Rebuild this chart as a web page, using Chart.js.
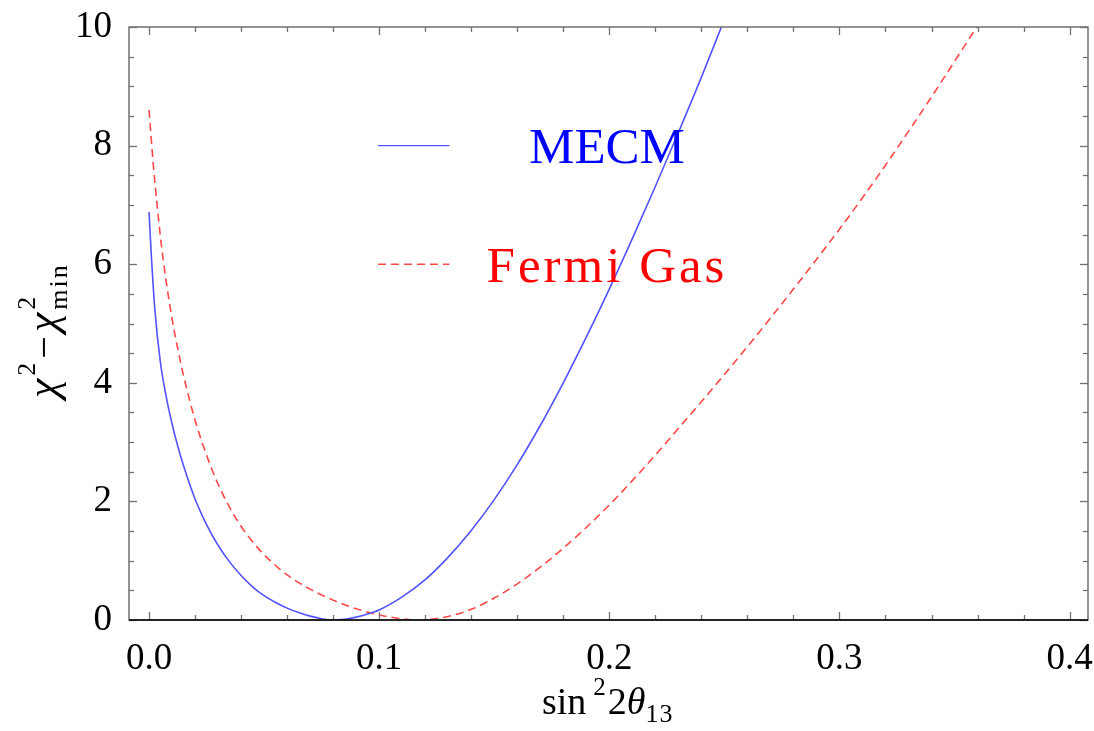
<!DOCTYPE html>
<html>
<head>
<meta charset="utf-8">
<script src="https://cdn.jsdelivr.net/npm/chart.js@4.4.0/dist/chart.umd.min.js"></script>
<style>
  html, body { margin: 0; padding: 0; background: #ffffff; }
  canvas { display: block; }
</style>
</head>
<body>
<canvas id="chi2" width="1094" height="731"></canvas>
<script>
// sin^2(2 theta_13) values and Delta chi^2 for the MECM nuclear model
const mecmX = [0, 0.001, 0.0025, 0.005, 0.0075, 0.01, 0.0125, 0.015, 0.02, 0.025, 0.03, 0.035,
               0.04, 0.045, 0.05, 0.055, 0.06, 0.065, 0.07, 0.075, 0.079, 0.085, 0.09, 0.095,
               0.10, 0.11, 0.12, 0.13, 0.14, 0.15, 0.16, 0.17, 0.18, 0.19, 0.20, 0.21, 0.22,
               0.23, 0.24, 0.2487];
const mecmY = [6.88, 6.15, 5.25, 4.33, 3.76, 3.31, 2.93, 2.60, 2.04, 1.61, 1.26, 0.98,
               0.75, 0.56, 0.41, 0.295, 0.20, 0.125, 0.065, 0.022, 0.0, 0.014, 0.048, 0.10,
               0.17, 0.39, 0.68, 1.06, 1.51, 2.03, 2.62, 3.28, 4.00, 4.77, 5.58, 6.43, 7.31,
               8.22, 9.15, 10.0];

// Same scan with the relativistic Fermi gas model
const fermiX = [0, 0.002, 0.005, 0.0075, 0.01, 0.0125, 0.015, 0.02, 0.025, 0.03, 0.035, 0.04,
                0.045, 0.05, 0.06, 0.07, 0.08, 0.09, 0.10, 0.108, 0.116, 0.12, 0.13, 0.14,
                0.15, 0.16, 0.17, 0.18, 0.19, 0.20, 0.21, 0.22, 0.23, 0.24, 0.25, 0.26, 0.27,
                0.28, 0.29, 0.30, 0.31, 0.32, 0.33, 0.34, 0.35, 0.36];
const fermiY = [8.6, 7.62, 6.45, 5.70, 5.08, 4.57, 4.12, 3.37, 2.78, 2.29, 1.90, 1.58,
                1.32, 1.10, 0.76, 0.52, 0.335, 0.19, 0.085, 0.03, 0.0, 0.005, 0.06, 0.18,
                0.37, 0.61, 0.89, 1.21, 1.56, 1.94, 2.35, 2.78, 3.23, 3.68, 4.14, 4.61, 5.09,
                5.58, 6.08, 6.59, 7.12, 7.67, 8.24, 8.82, 9.42, 10.02];

const seriesLabels = ['MECM', 'Fermi Gas'];
const xTicks = [0, 0.1, 0.2, 0.3, 0.4];
const yTicks = [0, 2, 4, 6, 8, 10];

const SERIF = '"Liberation Serif", "DejaVu Serif", serif';
const lineBlue = 'rgb(82,82,255)';
const lineRed = 'rgb(255,72,72)';

function pts(xs, ys) { return xs.map((x, i) => ({ x: x, y: ys[i] })); }

// Frame with inward major/minor ticks on all four sides
const framePlugin = {
  id: 'frame',
  afterDatasetsDraw(chart) {
    const ctx = chart.ctx;
    const { left, right, top, bottom } = chart.chartArea;
    const xs = chart.scales.x, ys = chart.scales.y;
    ctx.save();
    ctx.strokeStyle = '#707070';
    ctx.lineWidth = 1.5;
    ctx.strokeRect(left, top, right - left, bottom - top);
    ctx.lineWidth = 1.3;
    const tick = (x1, y1, x2, y2) => { ctx.beginPath(); ctx.moveTo(x1, y1); ctx.lineTo(x2, y2); ctx.stroke(); };
    for (let i = 0; i <= 20; i++) {
      const v = i * 0.02;
      const len = i % 5 === 0 ? 8 : 5;
      const px = Math.round(xs.getPixelForValue(v)) + 0.5;
      tick(px, bottom, px, bottom - len);
      tick(px, top, px, top + len);
    }
    for (let i = 0; i <= 20; i++) {
      const v = i * 0.5;
      const len = i % 4 === 0 ? 8 : 5;
      const py = Math.round(ys.getPixelForValue(v)) + 0.5;
      tick(left, py, left + len, py);
      tick(right, py, right - len, py);
    }
    // axis line along chi^2 = 0
    ctx.strokeStyle = '#000000';
    ctx.lineWidth = 1.6;
    const y0 = ys.getPixelForValue(0);
    tick(left, y0, right, y0);
    ctx.restore();
  }
};

// Legend: a line sample and a coloured label for each curve
const legendPlugin = {
  id: 'curveLegend',
  afterDatasetsDraw(chart, args, opts) {
    const ctx = chart.ctx;
    const xs = chart.scales.x, ys = chart.scales.y;
    ctx.save();
    chart.data.datasets.forEach((ds, i) => {
      const yPix = ys.getPixelForValue(opts.rows[i]);
      ctx.strokeStyle = ds.borderColor;
      ctx.lineWidth = 1.4;
      ctx.setLineDash(ds.borderDash || []);
      ctx.beginPath();
      ctx.moveTo(xs.getPixelForValue(opts.sampleFrom), yPix);
      ctx.lineTo(xs.getPixelForValue(opts.sampleTo), yPix);
      ctx.stroke();
      ctx.setLineDash([]);
      ctx.fillStyle = opts.textColors[i];
      ctx.font = '51px ' + SERIF;
      ctx.letterSpacing = opts.spacing[i] + 'px';
      ctx.textAlign = 'center';
      ctx.textBaseline = 'alphabetic';
      ctx.fillText(ds.label, xs.getPixelForValue(opts.textCenter), yPix + 17.5);
    });
    ctx.restore();
  }
};

// Draw a run of text pieces with sub/superscripts; returns total advance
function drawRuns(ctx, runs, x0, y0) {
  let x = x0;
  runs.forEach(r => {
    x += r.gap || 0;
    if (r.stack) {
      let w = 0;
      r.stack.forEach(s => {
        ctx.font = (s.style || '') + ' ' + s.size + 'px ' + SERIF;
        ctx.letterSpacing = (s.spacing || 0) + 'px';
        ctx.fillText(s.text, x, y0 + s.dy);
        w = Math.max(w, ctx.measureText(s.text).width);
      });
      ctx.letterSpacing = '0px';
      x += w;
    } else {
      ctx.font = (r.style || '') + ' ' + r.size + 'px ' + SERIF;
      ctx.letterSpacing = (r.spacing || 0) + 'px';
      ctx.fillText(r.text, x, y0 + (r.dy || 0));
      x += ctx.measureText(r.text).width;
      ctx.letterSpacing = '0px';
    }
  });
  return x - x0;
}

const titlePlugin = {
  id: 'axisTitles',
  afterDraw(chart) {
    const ctx = chart.ctx;
    ctx.save();
    ctx.fillStyle = '#000000';
    ctx.textAlign = 'left';
    ctx.textBaseline = 'alphabetic';
    // x axis: sin^2 2θ_13
    drawRuns(ctx, [
      { text: 'sin', size: 38 },
      { text: '2', size: 25, dy: -19, gap: 7 },
      { text: '2', size: 38, gap: 2 },
      { text: 'θ', size: 38, style: 'italic' },
      { text: '13', size: 26, dy: 8, spacing: 1 }
    ], 542, 714);
    // y axis: χ^2 − χ^2_min, rotated
    ctx.translate(57, 398);
    ctx.rotate(-Math.PI / 2);
    drawRuns(ctx, [
      { text: 'χ', size: 44, style: 'italic' },
      { text: '2', size: 26, dy: -22, gap: 3 },
      { text: '−', size: 40, gap: 4 },
      { text: 'χ', size: 44, style: 'italic', gap: 4 },
      { stack: [ { text: '2', size: 26, dy: -22 }, { text: 'min', size: 26, dy: 10, spacing: 2 } ], gap: 3 }
    ], 0, 0);
    ctx.restore();
  }
};

const tickFont = { family: SERIF, size: 37 };

new Chart(document.getElementById('chi2').getContext('2d'), {
  type: 'scatter',
  data: {
    datasets: [
      {
        label: seriesLabels[0],
        data: pts(mecmX, mecmY),
        showLine: true,
        borderColor: lineBlue,
        borderWidth: 1.6,
        pointRadius: 0,
        cubicInterpolationMode: 'monotone',
        fill: false
      },
      {
        label: seriesLabels[1],
        data: pts(fermiX, fermiY),
        showLine: true,
        borderColor: lineRed,
        borderWidth: 1.6,
        borderDash: [8, 5],
        pointRadius: 0,
        cubicInterpolationMode: 'monotone',
        fill: false
      }
    ]
  },
  options: {
    responsive: false,
    animation: false,
    devicePixelRatio: 1,
    layout: { padding: { top: 27, right: 6, left: 0, bottom: 0 } },
    plugins: {
      legend: { display: false },
      tooltip: { enabled: false },
      curveLegend: {
        rows: [8, 6],
        sampleFrom: 0.0995,
        sampleTo: 0.1305,
        textCenter: 0.199,
        textColors: ['#0000ff', '#ff0000'],
        spacing: [0, 3]
      }
    },
    scales: {
      x: {
        type: 'linear',
        min: -0.0087,
        max: 0.408,
        afterBuildTicks: s => { s.ticks = xTicks.map(v => ({ value: v })); },
        afterFit: s => { s.height = 111; s.paddingLeft = 0; s.paddingRight = 0; },
        grid: { display: false },
        border: { display: false },
        ticks: {
          font: tickFont,
          color: '#000000',
          padding: 9,
          maxRotation: 0,
          autoSkip: false,
          callback: v => Number(v).toFixed(1)
        }
      },
      y: {
        type: 'linear',
        min: 0,
        max: 10,
        afterBuildTicks: s => { s.ticks = yTicks.map(v => ({ value: v })); },
        afterFit: s => { s.width = 129; s.paddingTop = 0; s.paddingBottom = 0; },
        grid: { display: false },
        border: { display: false },
        ticks: {
          font: tickFont,
          color: '#000000',
          padding: 9,
          autoSkip: false,
          callback: v => String(v)
        }
      }
    }
  },
  plugins: [framePlugin, legendPlugin, titlePlugin]
});
</script>
</body>
</html>
